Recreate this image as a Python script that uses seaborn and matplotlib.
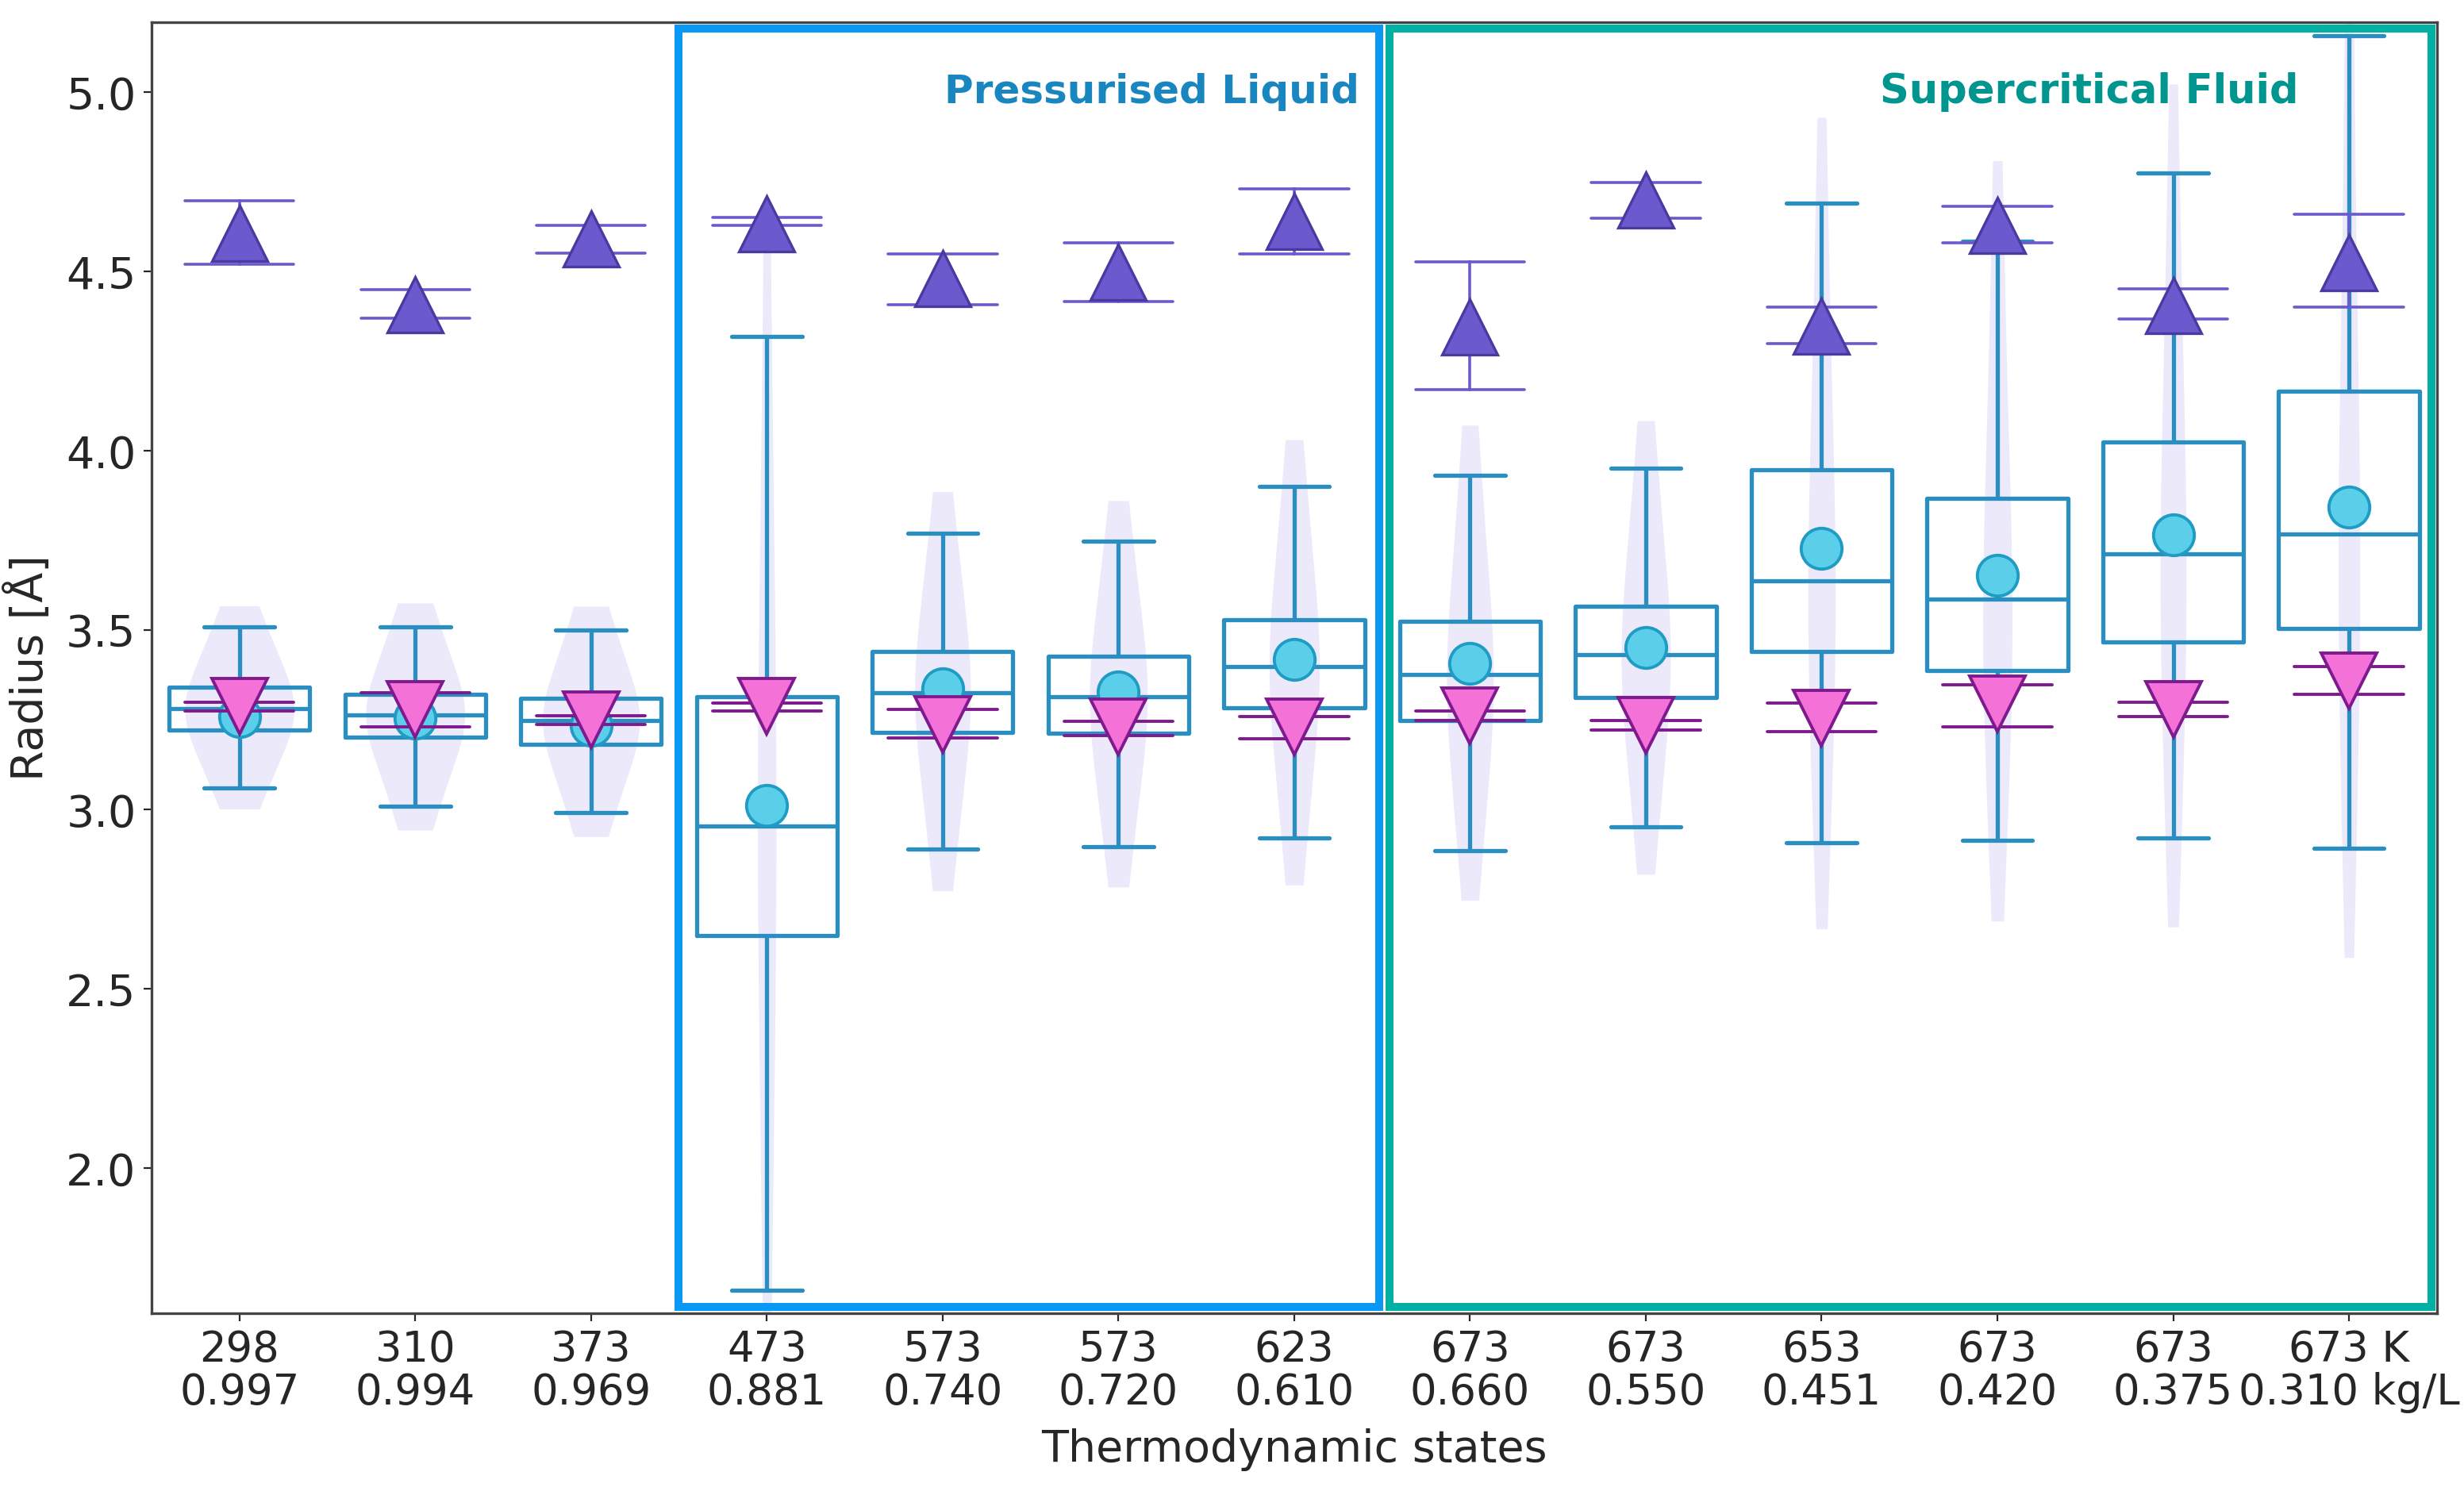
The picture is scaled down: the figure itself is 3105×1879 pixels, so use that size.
import numpy as np
import pandas as pd
import matplotlib
matplotlib.use("Agg")
import matplotlib.pyplot as plt
import matplotlib.transforms as mtransforms
from matplotlib.patches import Rectangle
import seaborn as sns

# thermodynamic states (temperature / density)
temps = ["298", "310", "373", "473", "573", "573", "623",
         "673", "673", "653", "673", "673", "673 K"]
densities = ["0.997", "0.994", "0.969", "0.881", "0.740", "0.720", "0.610",
             "0.660", "0.550", "0.451", "0.420", "0.375", "0.310 kg/L"]
labels = [f"{t}\n{d}" for t, d in zip(temps, densities)]

# box statistics
box_lo = [3.061, 3.009, 2.992, 1.660, 2.890, 2.897, 2.920, 2.886, 2.952, 2.907, 2.914, 2.922, 2.893]
box_q1 = [3.223, 3.202, 3.183, 2.650, 3.216, 3.214, 3.284, 3.249, 3.313, 3.440, 3.389, 3.468, 3.506]
box_med = [3.281, 3.264, 3.249, 2.955, 3.327, 3.314, 3.400, 3.376, 3.433, 3.638, 3.587, 3.713, 3.769]
box_q3 = [3.341, 3.322, 3.310, 3.315, 3.442, 3.428, 3.529, 3.524, 3.566, 3.947, 3.867, 4.025, 4.167]
box_hi = [3.509, 3.510, 3.500, 4.320, 3.770, 3.749, 3.902, 3.933, 3.952, 4.691, 4.585, 4.774, 5.157]

# mean radius (circles)
means = [3.260, 3.255, 3.235, 3.012, 3.338, 3.328, 3.419, 3.407, 3.452, 3.729, 3.654, 3.767, 3.844]

# lower estimate (down triangles) with its range
down_lo = [3.274, 3.230, 3.237, 3.276, 3.199, 3.206, 3.197, 3.249, 3.223, 3.217, 3.230, 3.259, 3.322]
down_mid = [3.289, 3.279, 3.251, 3.288, 3.238, 3.230, 3.230, 3.262, 3.236, 3.256, 3.295, 3.280, 3.360]
down_hi = [3.299, 3.325, 3.262, 3.298, 3.279, 3.247, 3.259, 3.274, 3.249, 3.298, 3.348, 3.300, 3.400]

# upper estimate (up triangles) with its range
up_lo = [4.520, 4.370, 4.551, 4.628, 4.408, 4.417, 4.550, 4.170, 4.649, 4.300, 4.581, 4.369, 4.401]
up_mid = [4.607, 4.407, 4.592, 4.634, 4.481, 4.499, 4.640, 4.345, 4.700, 4.349, 4.628, 4.406, 4.524]
up_hi = [4.698, 4.449, 4.628, 4.652, 4.550, 4.580, 4.730, 4.528, 4.748, 4.401, 4.682, 4.451, 4.661]

BOX_C = "#2a8fc0"
MEAN_FACE, MEAN_EDGE = "#5bcfea", "#1f9cc4"
DOWN_FACE, DOWN_EDGE = "#f472d8", "#7e1a8e"
UP_FACE, UP_EDGE = "#6a5acd", "#4a3aa0"

sns.set_style("ticks")
plt.rcParams["font.family"] = ["DejaVu Sans"]

box_df = pd.DataFrame({
    "state": np.repeat(labels, 5),
    "radius": np.column_stack([box_lo, box_q1, box_med, box_q3, box_hi]).ravel(),
})
down_df = pd.DataFrame({
    "state": np.repeat(labels, 3),
    "radius": np.column_stack([down_lo, down_mid, down_hi]).ravel(),
})
up_df = pd.DataFrame({
    "state": np.repeat(labels, 3),
    "radius": np.column_stack([up_lo, up_mid, up_hi]).ravel(),
})

fig, ax = plt.subplots(figsize=(15.525, 9.395), dpi=200)
fig.subplots_adjust(left=0.0615, right=0.989, top=0.985, bottom=0.119)

sns.violinplot(data=box_df, x="state", y="radius", order=labels, color="#ebe9fa",
               saturation=1, inner=None, linewidth=0, width=0.62, cut=0.5,
               density_norm="area", ax=ax)

sns.boxplot(data=box_df, x="state", y="radius", order=labels, fill=False,
            color=BOX_C, saturation=1, whis=np.inf, width=0.8, linewidth=1.9, ax=ax)

sns.pointplot(x=labels, y=means, order=labels, errorbar=None, linestyle="none",
              marker="o", markersize=18.5, color=MEAN_EDGE,
              markerfacecolor=MEAN_FACE, markeredgecolor=MEAN_EDGE,
              markeredgewidth=1.4, zorder=4, ax=ax)

sns.pointplot(data=down_df, x="state", y="radius", order=labels, estimator="median",
              errorbar=("pi", 100), capsize=0.62, linestyle="none",
              marker="v", markersize=25, color=DOWN_EDGE,
              markerfacecolor=DOWN_FACE, markeredgecolor=DOWN_EDGE,
              markeredgewidth=1.4, err_kws={"linewidth": 1.4, "zorder": 4.5},
              zorder=5, ax=ax)

sns.pointplot(data=up_df, x="state", y="radius", order=labels, estimator="median",
              errorbar=("pi", 100), capsize=0.62, linestyle="none",
              marker="^", markersize=25, color=UP_FACE,
              markerfacecolor=UP_FACE, markeredgecolor=UP_EDGE,
              markeredgewidth=1.2, err_kws={"linewidth": 1.3, "zorder": 4.5},
              zorder=5, ax=ax)

# state regions
trans = mtransforms.blended_transform_factory(ax.transData, ax.transAxes)
ax.add_patch(Rectangle((2.497, 0.005), 6.483 - 2.497, 0.99, fill=False,
                       edgecolor="#0a98f5", linewidth=3.6, transform=trans, zorder=6))
ax.add_patch(Rectangle((6.54, 0.005), 12.47 - 6.54, 0.99, fill=False,
                       edgecolor="#00b0a3", linewidth=3.6, transform=trans, zorder=6))
ax.text(6.37, 5.0, "Pressurised Liquid", ha="right", va="center", fontsize=18,
        fontweight="bold", color="#1a86bf")
ax.text(11.715, 5.0, "Supercritical Fluid", ha="right", va="center", fontsize=18.4,
        fontweight="bold", color="#00958e")

ax.set_xlim(-0.5, 12.5)
ax.set_ylim(1.595, 5.195)
ax.set_yticks([2.0, 2.5, 3.0, 3.5, 4.0, 4.5, 5.0])
ax.set_xlabel("Thermodynamic states", fontsize=20, labelpad=7)
ax.set_ylabel("Radius [Å]", fontsize=20, labelpad=6)
ax.tick_params(axis="y", labelsize=20)
ax.tick_params(axis="x", labelsize=19)
for lab in ax.get_xticklabels():
    lab.set_linespacing(1.05)
for sp in ax.spines.values():
    sp.set_color("#444444")
    sp.set_linewidth(1.2)

fig.savefig("out.png", dpi=200)
